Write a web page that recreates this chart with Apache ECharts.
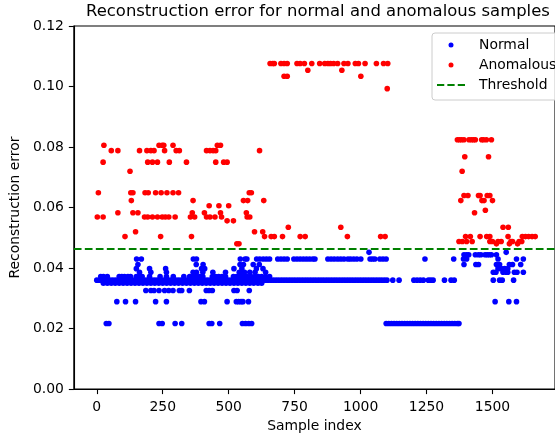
<!DOCTYPE html>
<html><head><meta charset="utf-8">
<script src="https://cdn.jsdelivr.net/npm/echarts@6/dist/echarts.min.js"></script>
<style>html,body{margin:0;padding:0;background:#fff}#c{width:555px;height:438px}</style>
</head><body><div id="c"></div>
<script>
// ---- data ----
const xTicks = [0, 250, 500, 750, 1000, 1250, 1500];
const yTicks = [0, 0.02, 0.04, 0.06, 0.08, 0.10, 0.12];
const threshold = 0.0463;
const xLimits = [-87, 1737];
const yLimits = [0, 0.12];

// Normal samples: [reconstruction error, [sample indices at that error]]
const normalBand = [0.0360, [0,10,20,30,40,50,60,70,80,90,100,110,120,130,140,150,160,170,180,190,200,210,220,230,240,250,260,270,280,290,300,310,320,330,340,350,360,370,380,390,400,410,420,430,440,450,460,470,480,490,500,510,520,530,540,550,560,570,580,590,600,610,620,630,640,650,660,670,680,690,700,710,720,730,740,750,760,770,780,790,800,810,820,830,840,850,860,870,880,890,900,910,920,930,940,950,960,970,980,990,1000,1010,1020,1030,1040,1050,1060,1070,1080,1090,1100,1122,1146,1202,1214,1226,1238,1257,1266,1275,1318,1343,1355,1503,1527,1537,1580]];
const normalUpper = [0.0372, [15,25,40,85,95,105,118,128,150,162,172,200,240,264,290,330,352,365,378,390,402,438,450,462,475,488,518,530,545,558,570,585,600,612,625,640,655]];
const normalLower = [0.0350, [25,40,55,70,85,100,115,130,145,160,175,190,205,220,235,250,265,280,295,310,325,340,355,370,385,400,415,430,445,460,475,490,505,520,535,550,565,580,595,611,625]];
const normal0386 = [0.0386, [162,205,264,365,378,402,440,488,540,552,560,580,600,640,1503,1513,1540,1552,1558,1583,1593,1617]];
const normal0398 = [0.0398, [150,200,261,397,409,520,550,605,630,1521,1533,1546,1558]];
const normal0412 = [0.0412, [156,377,403,543,556,593,616,1392,1437,1447,1515,1527,1564,1576,1607]];
const normal0430 = [0.0430, [151,169,366,378,544,562,569,606,618,631,643,655,686,698,710,722,747,759,771,783,795,807,819,827,876,888,900,913,925,937,952,962,974,986,1001,1036,1045,1054,1073,1085,1097,1244,1353,1390,1402,1521,1591,1617]];
const normal0444 = [0.0444, [1392,1402,1410,1435,1447,1456,1472,1480,1488,1496,1515]];
const normal0452 = [0.0452, [1032,1552]];
const normal0326 = [0.0326, [186,205,217,236,257,273,289,313,322,351,415,426,438,520,532,578]];
const normal0289 = [0.0289, [76,109,147,223,264,395,408,494,529,538,547,554,575,1510,1562,1591]];
const normal0217 = [0.0217, [36,46,236,248,297,322,426,436,466,552,564,576,587,1097,1107,1117,1127,1137,1147,1157,1167,1177,1187,1197,1207,1217,1227,1237,1247,1257,1267,1277,1287,1297,1307,1317,1327,1337,1347,1357,1367,1373]];

// Anomalous samples
const anom1076 = [0.1076, [657,667,673,698,710,722,759,771,787,815,845,864,876,886,898,913,937,952,980,992,1017,1060,1087,1103]];
const anom1054 = [0.1054, [800,929]];
const anom1034 = [0.1034, [710,722,1001]];
const anom0993 = [0.0993, [1101]];
const anom0824 = [0.0824, [1367,1375,1383,1392,1411,1420,1428,1435,1459,1466,1477,1496]];
const anom0806 = [0.0806, [27,236,248,254,289,457,469]];
const anom0788 = [0.0788, [55,80,162,190,205,217,257,301,313,416,429,441,451,617]];
const anom0768 = [0.0768, [1395,1485]];
const anom0750 = [0.0750, [24,193,211,230,275,340,451,481,494]];
const anom0720 = [0.0720, [126,1385]];
const anom0649 = [0.0649, [6,129,137,183,195,223,244,266,289,310,578,586]];
const anom0640 = [0.0640, [1392,1407,1447,1453,1480,1490]];
const anom0623 = [0.0623, [131,365,556,572,633,1380,1460,1468,1500]];
const anom0606 = [0.0606, [426,463,500]];
const anom0591 = [0.0591, [1473]];
const anom0583 = [0.0583, [80,137,156,362,408,469,567,1432]];
const anom0569 = [0.0569, [2,24,181,193,211,230,248,260,273,297,355,371,416,429,448,473,570,580]];
const anom0556 = [0.0556, [494,518]];
const anom0535 = [0.0535, [726,925,1540,1560]];
const anom0520 = [0.0520, [147,598,629]];
const anom0504 = [0.0504, [107,242,359,636,661,673,704,771,790,950,1076,1093,1398,1416,1453,1478,1490,1559,1613,1625,1637,1650,1662]];
const anom0488 = [0.0488, [1373,1386,1402,1423,1490,1500,1521,1533,1570,1576,1601,1611]];
const anom0480 = [0.0480, [531,539,1515,1564,1595]];

const normalRows = [normalBand, normalUpper, normalLower, normal0386, normal0398, normal0412, normal0430, normal0444, normal0452, normal0326, normal0289, normal0217];
const anomRows = [anom1076, anom1054, anom1034, anom0993, anom0824, anom0806, anom0788, anom0768, anom0750, anom0720, anom0649, anom0640, anom0623, anom0606, anom0591, anom0583, anom0569, anom0556, anom0535, anom0520, anom0504, anom0488, anom0480];

const toPoints = rows => rows.flatMap(([y, xs]) => xs.map(x => [x, y]));

const FONT = 'DejaVu Sans';
const dashIcon = 'path://M0,0H7.7V2H0Z M11,0H18.7V2H11Z M22,0H29.7V2H22Z';
const chart = echarts.init(document.getElementById('c'), null, {renderer: 'canvas'});
chart.setOption({
  animation: false,
  backgroundColor: '#fff',
  textStyle: {fontFamily: FONT},
  title: {
    text: 'Reconstruction error for normal and anomalous samples',
    left: 86, top: 4, padding: 0,
    textStyle: {fontFamily: FONT, fontSize: 16.45, fontWeight: 'normal', color: '#000'}
  },
  grid: {left: 72, top: 26, width: 495, height: 369, show: true, borderColor: '#000', borderWidth: 1.1, backgroundColor: 'transparent'},
  legend: {
    orient: 'vertical', left: 432, top: 33,
    padding: [5, 6, 8, 5],
    itemWidth: 28, itemHeight: 5, itemGap: 6,
    backgroundColor: 'rgba(255,255,255,0.8)', borderColor: '#cccccc', borderWidth: 1, borderRadius: 3,
    textStyle: {fontFamily: FONT, fontSize: 13.9, color: '#000', padding: [0, 0, 0, 9]},
    data: ['Normal', 'Anomalous',
      {name: 'Threshold', icon: dashIcon, itemStyle: {color: '#008000', borderWidth: 0, borderColor: 'transparent'}}]
  },
  xAxis: {
    type: 'value', min: xLimits[0], max: xLimits[1],
    name: 'Sample index', nameLocation: 'middle', nameGap: 28,
    nameTextStyle: {fontFamily: FONT, fontSize: 13.9, color: '#000'},
    axisLine: {show: true, onZero: false, lineStyle: {color: '#000', width: 1.1}},
    axisTick: {show: true, length: 5, customValues: xTicks, lineStyle: {color: '#000', width: 1.1}},
    axisLabel: {customValues: xTicks, fontFamily: FONT, fontSize: 13.9, color: '#000', margin: 11, formatter: v => String(v)},
    splitLine: {show: false}
  },
  yAxis: {
    type: 'value', min: yLimits[0], max: yLimits[1],
    name: 'Reconstruction error', nameLocation: 'middle', nameGap: 45.5, nameRotate: 90,
    nameTextStyle: {fontFamily: FONT, fontSize: 13.9, color: '#000'},
    axisLine: {show: true, onZero: false, lineStyle: {color: '#000', width: 1.1}},
    axisTick: {show: true, length: 5, customValues: yTicks, lineStyle: {color: '#000', width: 1.1}},
    axisLabel: {customValues: yTicks, fontFamily: FONT, fontSize: 13.9, color: '#000', margin: 10, formatter: v => v.toFixed(2)},
    splitLine: {show: false}
  },
  series: [
    {name: 'Normal', type: 'scatter', data: toPoints(normalRows), symbol: 'circle', symbolSize: 5.6,
     itemStyle: {color: '#0000ff', opacity: 1}, z: 2},
    {name: 'Anomalous', type: 'scatter', data: toPoints(anomRows), symbol: 'circle', symbolSize: 5.6,
     itemStyle: {color: '#ff0000', opacity: 1}, z: 3},
    {name: 'Threshold', type: 'line', data: [[xLimits[0], threshold], [xLimits[1], threshold]],
     symbol: 'none', lineStyle: {color: '#008000', width: 2, type: [7.7, 3.3]}, itemStyle: {color: '#008000'}, z: 4, silent: true}
  ]
});
</script></body></html>
